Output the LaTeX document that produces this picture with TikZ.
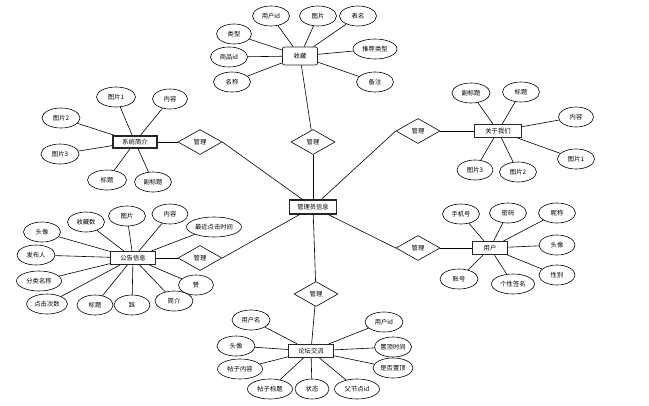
\documentclass[tikz,border=0pt]{standalone}
\usepackage{fontspec}
\newfontfamily\cjk{Noto Sans CJK SC}
\usetikzlibrary{shapes.geometric}
\begin{document}
\begin{tikzpicture}[x=1pt,y=-1pt,
  lbl/.style={font=\cjk\fontsize{6.3}{7}\selectfont},
  attr/.style={lbl,ellipse,draw,fill=white,line width=0.6pt,minimum width=37pt,minimum height=20pt,inner sep=0.5pt},
  ent/.style={lbl,rectangle,draw=black!85,fill=white,line width=1.1pt,minimum width=45pt,minimum height=13pt,inner sep=1pt},
  rel/.style={lbl,diamond,draw,fill=white,line width=0.6pt,minimum width=44pt,minimum height=25pt,inner sep=0pt},
  conn/.style={draw,line width=0.6pt}]
\useasboundingbox (0,0) rectangle (649,405);
\fill[white] (0,0) rectangle (649,405);
% central
\node[ent,minimum width=47pt,minimum height=14pt] (adm) at (313,207) {管理员信息};
% diamonds
\node[rel] (d1) at (313,142) {管理};
\node[rel] (d2) at (200,142) {管理};
\node[rel] (d3) at (418,131) {管理};
\node[rel] (d4) at (200,258) {管理};
\node[rel] (d5) at (418,248) {管理};
\node[rel] (d6) at (316,294) {管理};
% entities
\node[ent,rounded corners=2pt,minimum width=35pt,minimum height=18pt,line width=0.8pt] (sc) at (300,56) {收藏};
\node[ent,minimum width=44pt,minimum height=12pt] (xt) at (135,142) {系统简介};
\node[ent,minimum width=47pt] (gy) at (498,131) {关于我们};
\node[ent] (gg) at (133,258) {公告信息};
\node[ent,minimum width=35pt] (yh) at (490,248) {用户};
\node[ent] (lt) at (311,351) {论坛交流};
% 收藏 attributes
\node[attr] (sc1) at (271,16) {用户id};
\node[attr] (sc2) at (318,16) {图片};
\node[attr] (sc3) at (358,16) {表名};
\node[attr,minimum width=35pt] (sc4) at (234,34) {类型};
\node[attr] (sc5) at (229,57) {商品id};
\node[attr] (sc6) at (232,82) {名称};
\node[attr,minimum width=44pt] (sc7) at (375,49) {推荐类型};
\node[attr] (sc8) at (375,82) {备注};
\foreach \a in {sc1,sc2,sc3,sc4,sc5,sc6,sc7,sc8} \path[conn] (sc) -- (\a);
% 系统简介 attributes
\node[attr,minimum width=39pt] (xt1) at (116,97) {图片1};
\node[attr,minimum width=35pt] (xt2) at (170,99) {内容};
\node[attr,minimum width=38pt] (xt3) at (61,118) {图片2};
\node[attr,minimum width=38pt] (xt4) at (60,154) {图片3};
\node[attr,minimum width=39pt] (xt5) at (107,180) {标题};
\node[attr,minimum width=37pt] (xt6) at (153,182) {副标题};
\foreach \a in {xt1,xt2,xt3,xt4,xt5,xt6} \path[conn] (xt) -- (\a);
% 关于我们 attributes
\node[attr,minimum width=38pt] (gy1) at (471,93) {副标题};
\node[attr] (gy2) at (521,92) {标题};
\node[attr,minimum width=35pt] (gy3) at (576,117) {内容};
\node[attr] (gy4) at (576,159) {图片1};
\node[attr,minimum width=36pt] (gy5) at (475,170) {图片3};
\node[attr] (gy6) at (518,172) {图片2};
\foreach \a in {gy1,gy2,gy3,gy4,gy5,gy6} \path[conn] (gy) -- (\a);
% 公告信息 attributes
\node[attr] (gg1) at (42,232) {头像};
\node[attr] (gg2) at (86,222) {收藏数};
\node[attr] (gg3) at (127,216) {图片};
\node[attr,minimum width=36pt] (gg4) at (170,214) {内容};
\node[attr,minimum width=55pt] (gg5) at (214,227) {最近点击时间};
\node[attr,minimum width=38pt] (gg6) at (36,255) {发布人};
\node[attr,minimum width=45pt] (gg7) at (39,281) {分类名称};
\node[attr,minimum width=41pt] (gg8) at (47,304) {点击次数};
\node[attr,minimum width=36pt] (gg9) at (95,305) {标题};
\node[attr,minimum width=36pt] (gg10) at (132,305) {踩};
\node[attr,minimum width=38pt] (gg11) at (174,301) {简介};
\node[attr,minimum width=35pt] (gg12) at (196,285) {赞};
\foreach \a in {gg1,gg2,gg3,gg4,gg5,gg6,gg7,gg8,gg9,gg10,gg11,gg12} \path[conn] (gg) -- (\a);
% 用户 attributes
\node[attr] (yh1) at (461,214) {手机号};
\node[attr] (yh2) at (508,213) {密码};
\node[attr] (yh3) at (557,213) {昵称};
\node[attr,minimum width=36pt] (yh4) at (557,245) {头像};
\node[attr,minimum width=36pt] (yh5) at (557,275) {性别};
\node[attr,minimum width=43pt] (yh6) at (513,284) {个性签名};
\node[attr,minimum width=38pt] (yh7) at (459,279) {账号};
\foreach \a in {yh1,yh2,yh3,yh4,yh5,yh6,yh7} \path[conn] (yh) -- (\a);
% 论坛交流 attributes
\node[attr,minimum width=38pt] (lt1) at (251,320) {用户名};
\node[attr,minimum width=38pt] (lt2) at (236,346) {头像};
\node[attr,minimum width=45pt] (lt3) at (240,369) {帖子内容};
\node[attr,minimum width=45pt] (lt4) at (270,389) {帖子标题};
\node[attr,minimum width=34pt] (lt5) at (312,389) {状态};
\node[attr,minimum width=45pt] (lt6) at (357,389) {父节点id};
\node[attr,minimum width=38pt] (lt7) at (384,322) {用户id};
\node[attr] (lt8) at (393,347) {置顶时间};
\node[attr,minimum width=40pt] (lt9) at (393,368) {是否置顶};
\foreach \a in {lt1,lt2,lt3,lt4,lt5,lt6,lt7,lt8,lt9} \path[conn] (lt) -- (\a);
% relationship connectors
\path[conn] (sc) -- (d1);
\path[conn] (d1) -- (adm);
\path[conn] (xt) -- (d2);
\path[conn] (d2.east) -- (adm);
\path[conn] (gy) -- (d3);
\path[conn] (d3.west) -- (adm);
\path[conn] (gg) -- (d4);
\path[conn] (d4.east) -- (adm);
\path[conn] (yh) -- (d5);
\path[conn] (d5.west) -- (adm);
\path[conn] (adm) -- (d6);
\path[conn] (d6) -- (lt);
\end{tikzpicture}
\end{document}
